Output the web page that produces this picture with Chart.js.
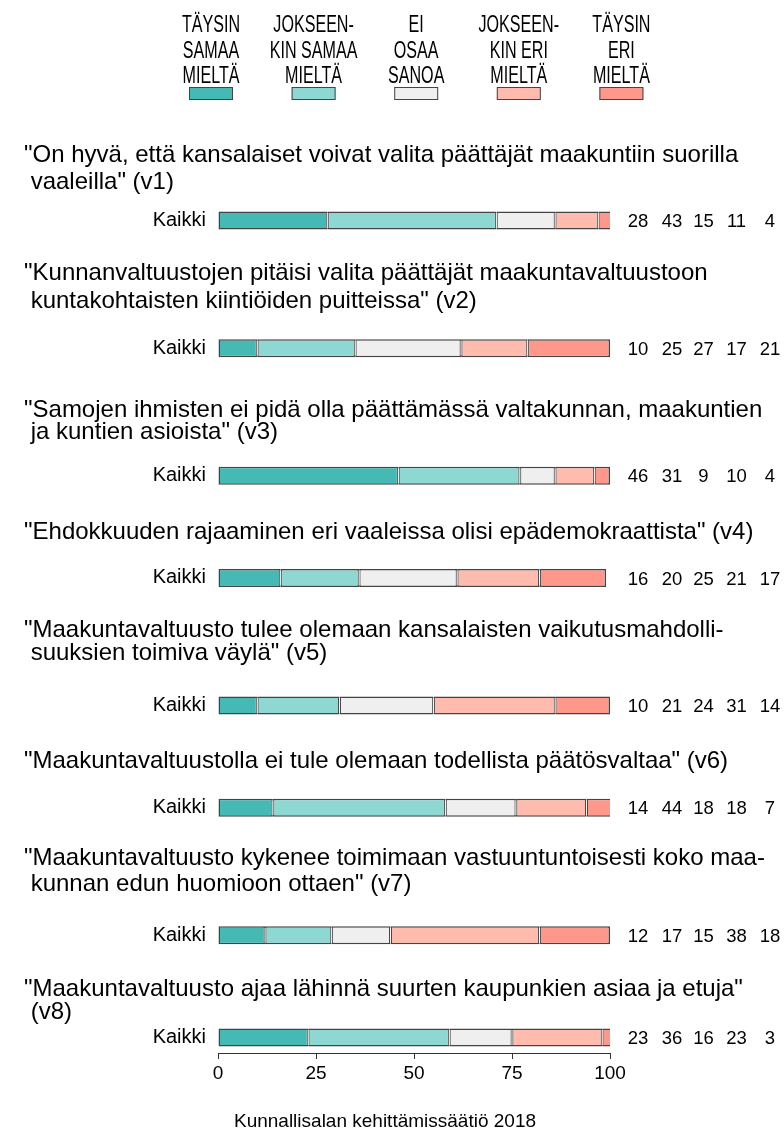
<!DOCTYPE html>
<html><head><meta charset="utf-8">
<script src="https://cdn.jsdelivr.net/npm/chart.js@4"></script>
<style>html,body{margin:0;padding:0;background:#fff}#wrap{width:784px;height:1128px;position:relative}canvas{display:block}</style>
</head><body><div id="wrap"><canvas id="c" width="784" height="1128"></canvas></div>
<script>
// ---- data ----
const categories = ['TÄYSIN SAMAA MIELTÄ', 'JOKSEENKIN SAMAA MIELTÄ', 'EI OSAA SANOA', 'JOKSEENKIN ERI MIELTÄ', 'TÄYSIN ERI MIELTÄ'];
const legendLines = [['TÄYSIN','SAMAA','MIELTÄ'], ['JOKSEEN-','KIN SAMAA','MIELTÄ'], ['EI','OSAA','SANOA'], ['JOKSEEN-','KIN ERI','MIELTÄ'], ['TÄYSIN','ERI','MIELTÄ']];
const questions = [
  ['"On hyvä, että kansalaiset voivat valita päättäjät maakuntiin suorilla', ' vaaleilla" (v1)'],
  ['"Kunnanvaltuustojen pitäisi valita päättäjät maakuntavaltuustoon', ' kuntakohtaisten kiintiöiden puitteissa" (v2)'],
  ['"Samojen ihmisten ei pidä olla päättämässä valtakunnan, maakuntien', ' ja kuntien asioista" (v3)'],
  ['"Ehdokkuuden rajaaminen eri vaaleissa olisi epädemokraattista" (v4)'],
  ['"Maakuntavaltuusto tulee olemaan kansalaisten vaikutusmahdolli-', ' suuksien toimiva väylä" (v5)'],
  ['"Maakuntavaltuustolla ei tule olemaan todellista päätösvaltaa" (v6)'],
  ['"Maakuntavaltuusto kykenee toimimaan vastuuntuntoisesti koko maa-', ' kunnan edun huomioon ottaen" (v7)'],
  ['"Maakuntavaltuusto ajaa lähinnä suurten kaupunkien asiaa ja etuja"', ' (v8)']
];
const rowLabel = 'Kaikki';
const taysinSamaa     = [28, 10, 46, 16, 10, 14, 12, 23];
const jokseenkinSamaa = [43, 25, 31, 20, 21, 44, 17, 36];
const eiOsaa          = [15, 27,  9, 25, 24, 18, 15, 16];
const jokseenkinEri   = [11, 17, 10, 21, 31, 18, 38, 23];
const taysinEri       = [ 4, 21,  4, 17, 14,  7, 18,  3];
const xTicks = [0, 25, 50, 75, 100];
const sourceText = 'Kunnallisalan kehittämissäätiö 2018';

// ---- layout / style ----
const series = [taysinSamaa, jokseenkinSamaa, eiOsaa, jokseenkinEri, taysinEri];
const colors = ['#45b9b4', '#8ed8d4', '#efefef', '#ffbbae', '#ff988a'];
const rowSlots = [0, 5, 10, 14, 19, 23, 28, 32];
const titleOffsets = [[-67,-40],[-77,-49],[-67,-45],[-48],[-77,-54],[-48],[-79,-53],[-50,-27]];
const valueCols = [638, 672, 703.5, 736.5, 770];
const FONT = "'Liberation Sans', Arial, Helvetica, sans-serif";

const datasets = series.map((vals, s) => ({
  label: categories[s],
  data: vals.map((v, i) => ({x: v, y: rowSlots[i]})),
  backgroundColor: colors[s],
  borderColor: '#444444',
  borderWidth: 1.5,
  borderSkipped: false,
  inflateAmount: 0,
  barThickness: 18
}));

const overlay = {
  id: 'overlay',
  afterDatasetsDraw(chart) {
    const ctx = chart.ctx;
    ctx.save();
    ctx.fillStyle = '#ffffff';
    for (let d = 1; d < chart.data.datasets.length; d++) {
      chart.getDatasetMeta(d).data.forEach(el => {
        const p = el.getProps(['base','y','height'], true);
        ctx.fillRect(p.base - 0.5, p.y - p.height/2 + 1.5, 1, p.height - 3);
      });
    }
    ctx.restore();
  },
  afterDraw(chart) {
    const ctx = chart.ctx;
    const yS = chart.scales.y;
    ctx.save();
    ctx.fillStyle = '#000';
    // legend
    legendLines.forEach((lines, i) => {
      const cx = 211 + i * 102.6;
      ctx.save();
      ctx.font = '23px ' + FONT;
      ctx.textAlign = 'center';
      ctx.textBaseline = 'alphabetic';
      lines.forEach((t, j) => {
        ctx.save();
        ctx.translate(cx, 24 + j * 25.5 + 8.2);
        ctx.scale(0.7, 1);
        ctx.fillText(t, 0, 0);
        ctx.restore();
      });
      ctx.restore();
      ctx.fillStyle = colors[i];
      ctx.fillRect(cx - 22, 87, 44, 13);
      ctx.strokeStyle = '#444444';
      ctx.lineWidth = 1;
      ctx.strokeRect(cx - 22 + 0.5, 87.5, 43, 12);
      ctx.fillStyle = '#000';
    });
    // question titles
    ctx.font = '24px ' + FONT;
    ctx.textAlign = 'left';
    ctx.textBaseline = 'alphabetic';
    questions.forEach((lines, i) => {
      const yc = yS.getPixelForValue(rowSlots[i]);
      lines.forEach((t, j) => {
        ctx.fillText(t, 24, yc + titleOffsets[i][j] + 8.6);
      });
    });
    // value labels
    ctx.font = '18.5px ' + FONT;
    ctx.textAlign = 'center';
    series.forEach((vals, s) => {
      vals.forEach((v, i) => {
        const yc = yS.getPixelForValue(rowSlots[i]);
        ctx.fillText(String(v), valueCols[s], yc + 6.6);
      });
    });
    // source
    ctx.font = '19px ' + FONT;
    ctx.fillText(sourceText, 385, 1120 + 6.8);
    ctx.restore();
  }
};

new Chart(document.getElementById('c'), {
  type: 'bar',
  data: { datasets },
  options: {
    indexAxis: 'y',
    responsive: false,
    animation: false,
    devicePixelRatio: 1,
    layout: { padding: { top: 207.7, right: 174, left: 0, bottom: 0 } },
    plugins: { legend: { display: false }, tooltip: { enabled: false } },
    scales: {
      x: {
        type: 'linear', stacked: true, min: 0, max: 100, offset: false,
        afterBuildTicks: sc => { sc.ticks = xTicks.map(v => ({value: v})); },
        afterFit: sc => { sc.height = 75; },
        grid: { drawOnChartArea: false, drawTicks: true, tickLength: 6, color: '#333', offset: false },
        border: { display: true, color: '#333', width: 1 },
        ticks: { color: '#000', font: { family: FONT, size: 19 }, padding: 3, autoSkip: false, maxRotation: 0 }
      },
      y: {
        type: 'linear', stacked: true, reverse: true, min: -0.5, max: 32.607, offset: false,
        afterBuildTicks: sc => { sc.ticks = rowSlots.map(v => ({value: v})); },
        afterFit: sc => { sc.width = 218; },
        grid: { display: false, drawTicks: false, offset: false },
        border: { display: false },
        ticks: { color: '#000', font: { family: FONT, size: 20 }, padding: 12, autoSkip: false, callback: () => rowLabel }
      }
    }
  },
  plugins: [overlay]
});
</script>
</body></html>
